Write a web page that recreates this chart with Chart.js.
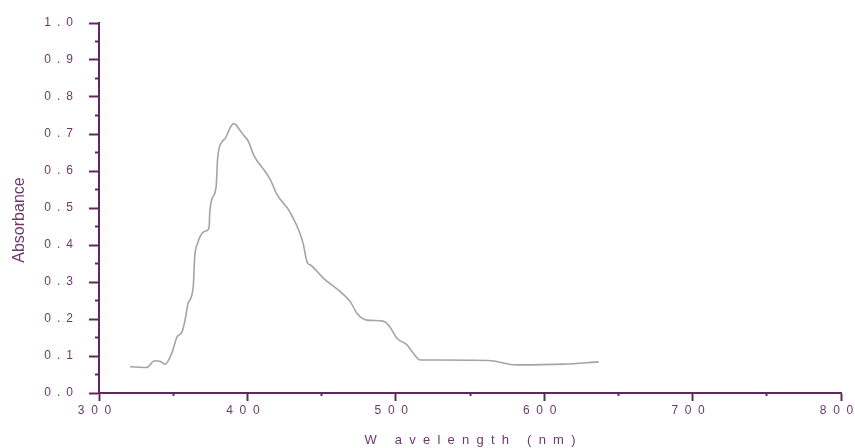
<!DOCTYPE html>
<html>
<head>
<meta charset="utf-8">
<script src="https://cdn.jsdelivr.net/npm/chart.js@4"></script>
<style>
  body { margin: 0; background: #fff; }
  #wrap { width: 855px; height: 448px; }
</style>
</head>
<body>
<div id="wrap"><canvas id="spectrum"></canvas></div>
<script>
// spectrum
const wavelengths = [321, 332, 337.5, 341, 344.5, 349, 352.5, 356, 358, 360, 363.5, 364.5, 366.5, 369.5, 372.8,
    374.3, 374.5, 374.8, 376.1, 379, 379.9, 382.9, 385.1, 388.5, 390.7, 392.5, 394.1, 397.4, 400.8, 404.2,
    412.1, 415.5, 419.9, 427.8, 430.1, 434.5, 437.5, 440.4, 442.5, 451.3, 462.6, 469.3, 473.9, 480.6, 490.7,
    495.1, 500.8, 507.5, 510.9, 516.5, 528.8, 562.3, 581.7, 612.9, 636.7];
const absorbance = [0.071, 0.069, 0.087, 0.086, 0.078, 0.107, 0.151, 0.166, 0.197, 0.242, 0.287, 0.368, 0.405, 0.432, 0.439,
    0.452, 0.476, 0.495, 0.525, 0.560, 0.632, 0.679, 0.688, 0.718, 0.728, 0.724, 0.715, 0.697, 0.679, 0.643,
    0.598, 0.576, 0.537, 0.495, 0.478, 0.441, 0.405, 0.352, 0.346, 0.310, 0.274, 0.247, 0.215, 0.197, 0.195,
    0.184, 0.148, 0.130, 0.112, 0.089, 0.089, 0.088, 0.076, 0.078, 0.084];

const xTicks = [300, 400, 500, 600, 700, 800];
const xMinorTicks = [350, 450, 550, 650, 750];
const yTicks = [0, 0.1, 0.2, 0.3, 0.4, 0.5, 0.6, 0.7, 0.8, 0.9, 1.0];
const yMinorTicks = [0.05, 0.15, 0.25, 0.35, 0.45, 0.55, 0.65, 0.75, 0.85, 0.95];

const xTitle = "W avelength (nm)";
const yTitle = "Absorbance";

const axisColor = "#5e2a5e";
const textColor = "#6b3a6b";

// the original spreads its characters out
function spaced(text, gap) {
    return text.split("").join(gap);
}

function useTicks(values) {
    return scale => { scale.ticks = values.map(v => ({ value: v })); };
}

const points = wavelengths.map((w, i) => ({ x: w, y: absorbance[i] }));

new Chart(document.getElementById("spectrum"), {
    type: "line",
    data: {
        datasets: [{
            data: points,
            borderColor: "#a4a4a4",
            borderWidth: 1.6,
            pointRadius: 0,
            cubicInterpolationMode: "monotone",
            fill: false
        }]
    },
    options: {
        responsive: true,
        maintainAspectRatio: false,
        animation: false,
        layout: { padding: { left: 0, top: 23, right: 14, bottom: 0 } },
        plugins: { legend: { display: false }, tooltip: { enabled: false } },
        scales: {
            x: {
                type: "linear",
                position: "bottom",
                weight: 1,
                min: 300,
                max: 800,
                afterBuildTicks: useTicks(xTicks),
                ticks: {
                    autoSkip: false,
                    maxRotation: 0,
                    padding: 2,
                    labelOffset: -4.5,
                    color: textColor,
                    font: { family: "Liberation Sans, Arial", size: 12 },
                    callback: v => spaced(String(v), "  ")
                },
                grid: { drawOnChartArea: false, tickLength: 8, tickWidth: 2, tickColor: axisColor },
                border: { color: axisColor, width: 2 },
                title: {
                    display: true,
                    text: spaced(xTitle, "  "),
                    color: textColor,
                    font: { family: "Liberation Sans, Arial", size: 13 },
                    padding: { top: 0, bottom: 0 }
                },
                afterFit: s => { s.height = 55; s.paddingLeft = 0; s.paddingRight = 0; }
            },
            xMinor: {
                type: "linear",
                axis: "x",
                position: "bottom",
                weight: 0,
                min: 300,
                max: 800,
                afterBuildTicks: useTicks(xMinorTicks),
                ticks: { display: false },
                grid: { drawOnChartArea: false, tickLength: 3, tickWidth: 2, tickColor: axisColor },
                border: { display: false },
                afterFit: s => { s.height = 0; s.paddingLeft = 0; s.paddingRight = 0; }
            },
            y: {
                type: "linear",
                position: "left",
                weight: 1,
                min: 0,
                max: 1,
                afterBuildTicks: useTicks(yTicks),
                ticks: {
                    padding: 16,
                    color: textColor,
                    font: { family: "Liberation Sans, Arial", size: 12 },
                    callback: v => spaced(v.toFixed(1), "\u2002")
                },
                grid: { drawOnChartArea: false, tickLength: 10, tickWidth: 2, tickColor: axisColor },
                border: { color: axisColor, width: 2 },
                title: {
                    display: true,
                    text: yTitle + "\u2002\u2002\u2002",
                    color: textColor,
                    font: { family: "Liberation Sans, Arial", size: 16 },
                    padding: { top: 10, bottom: 0 }
                },
                afterFit: s => { s.width = 99; s.paddingTop = 0; s.paddingBottom = 0; }
            },
            yMinor: {
                type: "linear",
                axis: "y",
                position: "left",
                weight: 0,
                min: 0,
                max: 1,
                afterBuildTicks: useTicks(yMinorTicks),
                ticks: { display: false },
                grid: { drawOnChartArea: false, tickLength: 4, tickWidth: 2, tickColor: axisColor },
                border: { display: false },
                afterFit: s => { s.width = 0; s.paddingTop = 0; s.paddingBottom = 0; }
            }
        }
    }
});
</script>
</body>
</html>
